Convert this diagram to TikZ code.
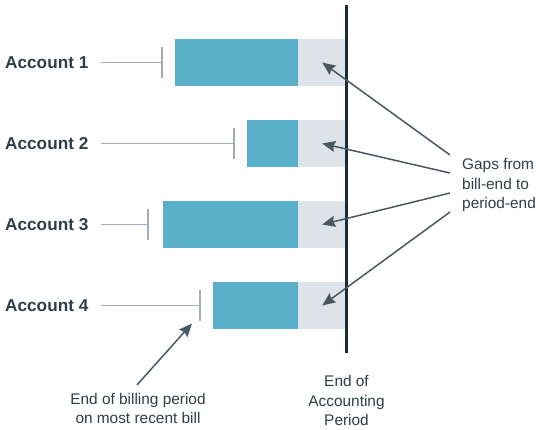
\documentclass[tikz,border=0pt]{standalone}
\usepackage{fontspec}
\setmainfont{Liberation Sans}
\usetikzlibrary{arrows.meta, positioning, calc}
\definecolor{cBill}{HTML}{5AAFC8}
\definecolor{cGap}{HTML}{DCE4E9}
\definecolor{cText}{HTML}{2D3E4A}
\definecolor{cTick}{HTML}{A3ADB5}
\definecolor{cArrow}{HTML}{4A5862}
\definecolor{cPeriod}{HTML}{1B2A36}
\tikzset{
	acct/.style    ={anchor=west, inner sep=0pt, text=cText, font=\fontsize{17.2}{20}\selectfont\bfseries},
	billbar/.style ={rectangle, anchor=east, fill=cBill, minimum height=47pt, inner sep=0pt},
	gapbar/.style  ={rectangle, anchor=west, fill=cGap, minimum width=48pt, minimum height=47pt, inner sep=0pt},
	lead/.style    ={draw=cTick, line width=1.5pt},
	billtick/.style={draw=cTick, line width=2pt},
	periodline/.style={draw=cPeriod, line width=3pt},
	note/.style    ={inner sep=0pt, text=cText, font=\fontsize{15.4}{19.5}\selectfont},
	gaparrow/.style={-{Stealth[length=13pt, width=11pt, inset=1.5pt]}, draw=cArrow, fill=cArrow, line width=1.5pt},
}
\begin{document}
\begin{tikzpicture}[x=1pt, y=-1pt]
	\useasboundingbox (0,0) rectangle (541,429);
	% accounts: bill start and end-of-billing tick
	\foreach \i/\bl/\tk in {1/175/162, 2/247/234, 3/163/148, 4/213/200} {
		\pgfmathsetmacro\yy{62.5+81*(\i-1)}
		\node[acct] (a\i) at (5,\yy) {Account \i};
		\node[billbar, minimum width={(298-\bl)*1pt}] (b\i) at (298,\yy) {};
		\node[gapbar] (g\i) at (298,\yy) {};
		\coordinate (s\i) at (101,\yy);
		\coordinate (t\i) at (\tk,\yy);
		\draw[lead] (s\i) -- (t\i);
		\draw[billtick] ($(t\i)+(0,-15.5)$) -- ($(t\i)+(0,15.5)$);
	}
	% end of accounting period
	\coordinate (ptop) at (346.5,5);
	\coordinate (pbot) at (346.5,353);
	\draw[periodline] (ptop) -- (pbot);
	\node[note, align=center] (plabel) at (346.5,400.5) {End of\\Accounting\\Period};
	% gaps
	\node[note, align=left, anchor=west] (gaps) at (462,185.5) {Gaps from\\bill-end to\\period-end};
	\draw[gaparrow] ($(gaps.west)+(-12,-30.5)$) -- (g1.center);
	\draw[gaparrow] ($(gaps.west)+(-12,-12.5)$) -- (g2.center);
	\draw[gaparrow] ($(gaps.west)+(-12,7.5)$) -- (g3.center);
	\draw[gaparrow] ($(gaps.west)+(-12,26.5)$) -- (g4.center);
	% end of billing period
	\node[note, align=center] (bill) at (138,408.5) {End of billing period\\on most recent bill};
	\draw[gaparrow] ($(bill.north)+(-1,-8)$) -- ($(t4)+(-8,18)$);
\end{tikzpicture}
\end{document}
